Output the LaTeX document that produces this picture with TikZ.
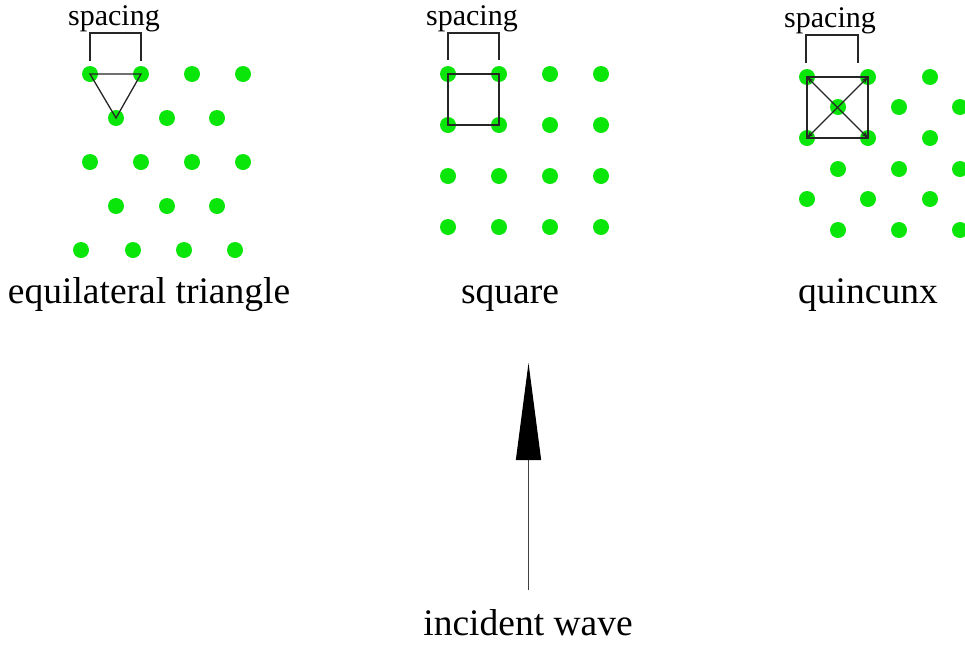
\documentclass[tikz,border=0pt]{standalone}
\usepackage{fontspec}
\setmainfont{Liberation Serif}
\usetikzlibrary{arrows.meta}
\definecolor{dotgreen}{RGB}{10,230,10}
\begin{document}
\begin{tikzpicture}[x=1pt,y=-1pt,
  dot/.style={circle,fill=dotgreen,draw=none,minimum size=16pt,inner sep=0pt},
  labeltext/.style={font=\fontsize{37.5}{40}\selectfont,anchor=base,inner sep=0pt},
  sptext/.style={font=\fontsize{30}{32}\selectfont,anchor=base,inner sep=0pt},
  guide/.style={draw=black!85,line width=1.3pt},
  diag/.style={draw=black!85,line width=1.1pt,{Stealth[length=7pt,width=5pt]}-{Stealth[length=7pt,width=5pt]}}]
\useasboundingbox (0,0) rectangle (965,646);
\fill[white] (0,0) rectangle (965,646);

% ---------- equilateral triangle ----------
\foreach \x [count=\i] in {90,141,192,243} {\node[dot] (ta\i) at (\x,74) {};}
\foreach \x [count=\i] in {116,167,217} {\node[dot] (tb\i) at (\x,118) {};}
\foreach \x [count=\i] in {90,141,192,243} {\node[dot] (tc\i) at (\x,162) {};}
\foreach \x [count=\i] in {116,167,217} {\node[dot] (td\i) at (\x,206) {};}
\foreach \x [count=\i] in {81,133,184,235} {\node[dot] (te\i) at (\x,250) {};}
\draw[guide] (ta1.center) -- (ta2.center) -- (tb1.center) -- cycle;
\coordinate (tl) at (90,33); \coordinate (tr) at (141,33);
\coordinate (tlb) at (90,61); \coordinate (trb) at (141,61);
\draw[guide] (tlb) -- (tl) -- (tr) -- (trb);
\node[sptext] (tsp) at (114,25) {spacing};
\node[labeltext] (tcap) at (149,303) {equilateral triangle};

% ---------- square ----------
\foreach \y [count=\j] in {74,125,176,227} {
  \foreach \x [count=\i] in {448,499,550,601} {\node[dot] (s\j\i) at (\x,\y) {};}
}
\draw[guide] (s11.center) -- (s12.center) -- (s22.center) -- (s21.center) -- cycle;
\coordinate (sl) at (448,33); \coordinate (sr) at (499,33);
\coordinate (slb) at (448,60); \coordinate (srb) at (499,60);
\draw[guide] (slb) -- (sl) -- (sr) -- (srb);
\node[sptext] (ssp) at (472,25) {spacing};
\node[labeltext] (scap) at (510,303) {square};

% ---------- quincunx ----------
\foreach \y [count=\j] in {77,138,199} {
  \foreach \x [count=\i] in {807,868,930} {\node[dot] (qa\j\i) at (\x,\y) {};}
}
\foreach \y [count=\j] in {107,169,230} {
  \foreach \x [count=\i] in {838,899,960} {\node[dot] (qb\j\i) at (\x,\y) {};}
}
\draw[guide] (qa11.center) -- (qa12.center) -- (qa22.center) -- (qa21.center) -- cycle;
\draw[diag] (qa11.center) -- (qa22.center);
\draw[diag] (qa21.center) -- (qa12.center);
\coordinate (ql) at (806,35); \coordinate (qr) at (858,35);
\coordinate (qlb) at (806,63); \coordinate (qrb) at (858,63);
\draw[guide] (qlb) -- (ql) -- (qr) -- (qrb);
\node[sptext] (qsp) at (830,27) {spacing};
\node[labeltext] (qcap) at (868,303) {quincunx};

% ---------- incident wave ----------
\coordinate (wbot) at (528.5,590);
\coordinate (wtip) at (528.5,363);
\draw[black!75,line width=1.3pt,-{Triangle[length=97pt,width=25pt,fill=black,color=black]}] (wbot) -- (wtip);
\node[labeltext] (wcap) at (528,635) {incident wave};
\end{tikzpicture}
\end{document}
